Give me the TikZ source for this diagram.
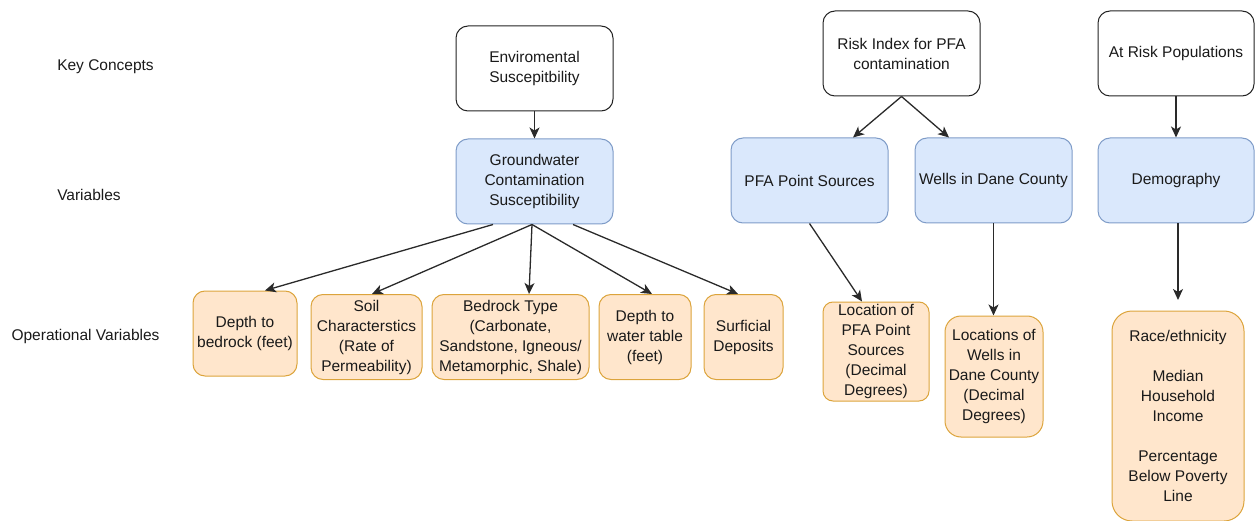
\documentclass[tikz,border=0pt]{standalone}
\usepackage{fontspec}
\setmainfont{Liberation Sans}
\usetikzlibrary{arrows.meta}
\definecolor{txt}{HTML}{1A1A1A}
\definecolor{kcdraw}{HTML}{222222}
\definecolor{vfill}{HTML}{DAE8FC}
\definecolor{vdraw}{HTML}{7F9CC8}
\definecolor{ofill}{HTML}{FFE6CC}
\definecolor{odraw}{HTML}{DCA43C}
\definecolor{edge}{HTML}{2A2A2A}
\begin{document}
\begin{tikzpicture}[x=1pt,y=-1pt,
  every node/.style={font=\fontsize{15.5}{20}\selectfont, text=txt, align=center, inner sep=0pt},
  lbl/.style={},
  kcbox/.style={draw=kcdraw, fill=white, line width=1pt, rounded corners=12pt, minimum width=157pt, minimum height=85pt},
  varbox/.style={draw=vdraw, fill=vfill, line width=1pt, rounded corners=12pt, minimum width=157pt, minimum height=85pt},
  opbox/.style={draw=odraw, fill=ofill, line width=1pt, rounded corners=12pt},
  arr/.style={draw=edge, line width=1.3pt, -{Stealth[length=11pt,width=10pt,inset=3pt]}}
]
\useasboundingbox (0,0) rectangle (1255,521);

% row labels
\node[lbl] (lkc) at (105.5,67) {Key Concepts};
\node[lbl] (lvar) at (89,195) {Variables};
\node[lbl] (lop) at (85.5,336) {Operational Variables};

% key concepts
\node[kcbox] (env) at (534.5,68.5) {Enviromental\\Suscepitbility};
\node[kcbox] (risk) at (901.5,53.5) {Risk Index for PFA\\contamination};
\node[kcbox, minimum width=156pt] (atrisk) at (1176,53.5) {At Risk Populations};

% variables
\node[varbox] (gw) at (534.5,181.5) {Groundwater\\Contamination\\Susceptibility};
\node[varbox] (pfa) at (809.5,180.5) {PFA Point Sources};
\node[varbox] (wells) at (993.5,180.5) {Wells in Dane County};
\node[varbox, minimum width=156pt] (demo) at (1176,180.5) {Demography};

% operational variables
\node[opbox, minimum width=104pt, minimum height=85pt] (dbed) at (245,333.5) {Depth to\\bedrock (feet)};
\node[opbox, minimum width=111pt, minimum height=85pt] (soil) at (366.5,337) {Soil\\Characterstics\\(Rate of\\Permeability)};
\node[opbox, minimum width=157pt, minimum height=85pt] (btype) at (510.5,337) {Bedrock Type\\(Carbonate,\\Sandstone, Igneous/\\Metamorphic, Shale)};
\node[opbox, minimum width=92pt, minimum height=85pt] (water) at (645,337) {Depth to\\water table\\(feet)};
\node[opbox, minimum width=79pt, minimum height=85pt] (surf) at (743.5,337) {Surficial\\Deposits};
\node[opbox, minimum width=106pt, minimum height=99pt, rounded corners=10pt] (locpfa) at (876,351.5) {Location of\\PFA Point\\Sources\\(Decimal\\Degrees)};
\node[opbox, minimum width=98pt, minimum height=121pt, rounded corners=16pt] (locwells) at (994,376.5) {Locations of\\Wells in\\Dane County\\(Decimal\\Degrees)};
\node[opbox, minimum width=132pt, minimum height=210pt, rounded corners=20pt] (race) at (1178,416) {Race/ethnicity\\[20pt]Median\\Household\\Income\\[20pt]Percentage\\Below Poverty\\Line};

% connectors
\draw[arr] (env) -- (gw);
\draw[arr] ([xshift=-41.5pt]gw.south) -- ([xshift=20pt]dbed.north);
\draw[arr] ([xshift=-2.5pt]gw.south) -- ([xshift=5.5pt]soil.north);
\draw[arr] ([xshift=-2.5pt]gw.south) -- ([xshift=18.5pt]btype.north);
\draw[arr] ([xshift=-2.5pt]gw.south) -- ([xshift=7pt]water.north);
\draw[arr] ([xshift=38.5pt]gw.south) -- ([xshift=-5.5pt]surf.north);
\draw[arr] (risk.south) -- ([xshift=43.5pt]pfa.north);
\draw[arr] (risk.south) -- ([xshift=-44.5pt]wells.north);
\draw[arr] (pfa.south) -- ([xshift=-14pt]locpfa.north);
\draw[arr] (wells.south) -- (wells.south |- locwells.north);
\draw[arr] (atrisk) -- (demo);
\coordinate (racetip) at (1178,300);
\draw[arr] (demo.south -| racetip) -- (racetip);
\end{tikzpicture}
\end{document}
